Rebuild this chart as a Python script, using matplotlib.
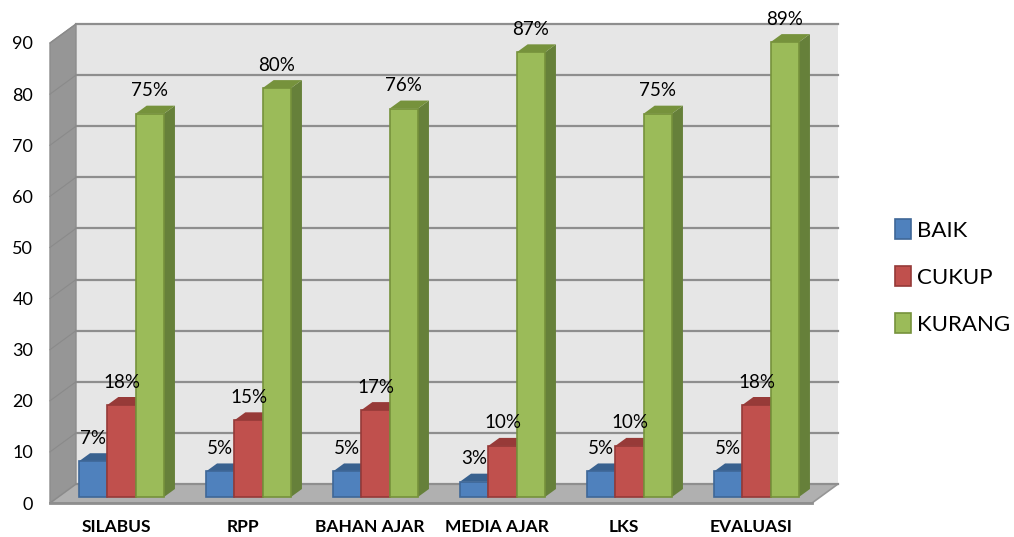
import matplotlib
matplotlib.use('Agg')
import matplotlib.pyplot as plt
from matplotlib.patches import Polygon, Patch

plt.rcParams['font.family'] = ['Lato', 'DejaVu Sans']

# data
categories = ['SILABUS', 'RPP', 'BAHAN AJAR', 'MEDIA AJAR', 'LKS', 'EVALUASI']
baik = [7, 5, 5, 3, 5, 5]
cukup = [18, 15, 17, 10, 10, 18]
kurang = [75, 80, 76, 87, 75, 89]
yticks = [0, 10, 20, 30, 40, 50, 60, 70, 80, 90]

series = [
    ('BAIK', baik, '#4F81BD', '#3F6797', '#38618F', '#34587F'),
    ('CUKUP', cukup, '#C0504D', '#953A38', '#973A38', '#85322F'),
    ('KURANG', kurang, '#9BBB59', '#76923C', '#76923C', '#66803A'),
]

W, H = 1014, 537
fig = plt.figure(figsize=(W / 100, H / 100), dpi=100, facecolor='white')

# front edge of the floor, pixels
left, right, bottom, top = 50, 812, 503, 43
ax = fig.add_axes([left / W, 1 - bottom / H, (right - left) / W, (bottom - top) / H])
ax.set_xlim(-0.5, 5.5)
ax.set_ylim(0, 90)
for s in ax.spines.values():
    s.set_visible(False)
ax.patch.set_visible(False)

# pixel offsets turned into data units
px_x = 6 / (right - left)
px_y = 90 / (bottom - top)
wall_dx, wall_dy = 26 * px_x, 19 * px_y
bar_dx, bar_dy = 8 * px_x, 6 * px_y
depth_dx, depth_dy = 11 * px_x, 8 * px_y
bar_w = 28.3 * px_x

x0, x1 = -0.5, 5.5

# walls and floor
ax.add_patch(Polygon([(x0 + wall_dx, wall_dy), (x1 + wall_dx, wall_dy), (x1 + wall_dx, 90 + wall_dy), (x0 + wall_dx, 90 + wall_dy)],
                     fc='#E6E6E6', ec='none', zorder=1, clip_on=False))
ax.add_patch(Polygon([(x0, 0), (x0 + wall_dx, wall_dy), (x0 + wall_dx, 90 + wall_dy), (x0, 90)],
                     fc='#969696', ec='#8C8C8C', lw=1, zorder=1, clip_on=False))
ax.add_patch(Polygon([(x0, 0), (x1, 0), (x1 + wall_dx, wall_dy), (x0 + wall_dx, wall_dy)],
                     fc='#B0B0B0', ec='#969696', lw=1.2, zorder=1, clip_on=False))
for v in yticks:
    ax.plot([x0 + wall_dx, x1 + wall_dx], [v + wall_dy, v + wall_dy], color='#8E8E8E', lw=1.6, zorder=2, clip_on=False)
    ax.plot([x0, x0 + wall_dx], [v, v + wall_dy], color='#8A8A8A', lw=0.8, zorder=2, clip_on=False)
ax.plot([x0, x1], [0, 0], color='#8E8E8E', lw=2, zorder=2, clip_on=False)

# bars with side and top faces
z = 3
for i in range(len(categories)):
    for k, (name, vals, face, edge, topc, sidec) in enumerate(series):
        v = vals[i]
        xl = i + bar_dx + (k - 1.5) * bar_w
        xr = xl + bar_w
        yb = bar_dy
        yt = v + bar_dy
        ax.add_patch(Polygon([(xr, yb), (xr + depth_dx, yb + depth_dy), (xr + depth_dx, yt + depth_dy), (xr, yt)],
                             fc=sidec, ec='none', zorder=z, clip_on=False))
        ax.add_patch(Polygon([(xl, yt), (xr, yt), (xr + depth_dx, yt + depth_dy), (xl + depth_dx, yt + depth_dy)],
                             fc=topc, ec='none', zorder=z, clip_on=False))
        ax.bar(xl, v, bottom=yb, width=bar_w, align='edge', color=face, edgecolor=edge, linewidth=1.2,
               zorder=z + 0.5, clip_on=False)
        z += 1

# data labels
for k, (name, vals, face, edge, topc, sidec) in enumerate(series):
    for i, v in enumerate(vals):
        ax.annotate(f'{v}%', (i + bar_dx + (k - 1) * bar_w, v + bar_dy), xytext=(0, 16.5),
                    textcoords='offset points', ha='center', va='center', fontsize=13.5,
                    color='black', zorder=100, annotation_clip=False)

ax.set_yticks(yticks)
ax.set_xticks([i + 2.5 * px_x for i in range(len(categories))])
ax.set_xticklabels(categories, fontweight='bold', fontsize=12.5)
ax.tick_params(axis='y', length=0, pad=12, labelsize=13)
ax.tick_params(axis='x', length=0, pad=11.5)

handles = [Patch(facecolor=s[2], edgecolor=s[3], linewidth=1.2, label=s[0]) for s in series]
fig.legend(handles=handles, loc='center left', bbox_to_anchor=(875 / W, 1 - 277 / H), frameon=False,
           fontsize=16, handlelength=0.72, handleheight=1.0, handletextpad=0.27, labelspacing=1.15)

fig.savefig('out.png', dpi=100, facecolor='white')
